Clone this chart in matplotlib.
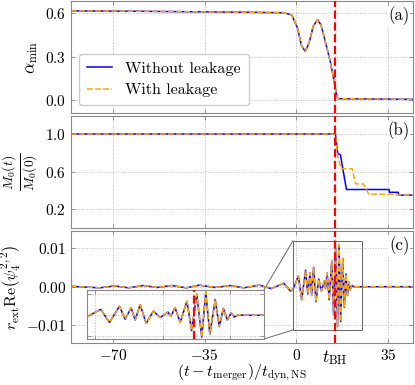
import matplotlib
matplotlib.use("Agg")
import matplotlib.pyplot as plt
from matplotlib.patches import Rectangle, ConnectionPatch

plt.rcParams.update({
    "font.family": "serif",
    "font.serif": ["cmr10"],
    "mathtext.fontset": "cm",
    "axes.unicode_minus": False,
    "axes.formatter.use_mathtext": True,
    "font.size": 11,
})

BLUE = "#0000ff"
ORANGE = "#ffa500"
RED = "#ff0000"
SPINE = "#888888"
GRID = "#bbbbbb"
BOX = "#666666"

T_BH = 14.7
XLIM = (-86, 44.6)

# panel (a): minimum lapse
alpha_t = [-86, -60, -30, -5, -1.7, 0.5, 2.0, 3.5, 5.0, 6.5, 8.2, 9.5,
           11.2, 13.0, 14.4, 15.3, 15.9, 44.6]
alpha_noleak = [0.618, 0.615, 0.61, 0.605, 0.59, 0.50, 0.38, 0.336, 0.40,
                0.51, 0.557, 0.52, 0.40, 0.27, 0.14, 0.05, 0.01, 0.005]
alpha_leak = [0.618, 0.615, 0.61, 0.605, 0.59, 0.50, 0.38, 0.337, 0.40,
              0.51, 0.556, 0.52, 0.40, 0.27, 0.14, 0.05, 0.01, 0.005]

# panel (b): rest mass fraction
m0_t_noleak = [-86, 15.0, 15.9, 16.9, 19.2, 35.5, 35.6, 39.0, 39.1, 44.6]
m0_noleak = [1.0, 1.0, 0.79, 0.78, 0.41, 0.41, 0.38, 0.38, 0.35, 0.35]
m0_t_leak = [-86, 15.0, 15.8, 17.2, 21.4, 22.7, 25.6, 27.8, 38.5, 39.0, 44.6]
m0_leak = [1.0, 1.0, 0.77, 0.63, 0.63, 0.47, 0.47, 0.36, 0.36, 0.35, 0.35]

# panel (c): GW strain extrema
psi_t = [-86, -75, -69.5, -64, -58.5, -53, -47.5, -42, -37, -31, -25, -20,
         -14, -9.5, -4.7, -2.1, -1.14, 0.84, 2.12, 3.6, 4.44, 5.33, 5.93,
         6.67, 7.56, 8.64, 9.63, 10.8, 11.2, 11.85, 12.6, 13.6, 14.3, 15.06,
         15.8, 16.4, 17.0, 17.8, 18.4, 19.0, 19.6, 20.15, 20.6, 21.3, 22.0,
         44.6]
psi_v = [0.0001, -0.0003, 0.0002, -0.0003, 0.0003, -0.0002, 0.0003, -0.0003,
         0.0004, -0.0002, 0.0003, -0.0003, 0.0004, -0.0005, 0.0009, -0.0012,
         -0.0006, 0.0028, -0.0034, 0.0043, -0.0019, 0.0036, -0.0023, 0.0051,
         -0.0039, 0.0020, -0.0011, 0.0015, -0.0005, 0.0036, -0.0034, 0.0067,
         -0.0073, 0.0101, -0.0104, 0.0110, -0.0091, 0.0074, -0.0054, 0.0033,
         -0.0023, 0.0012, -0.0008, 0.0003, 0.0, 0.0]

# zoomed window of the inset
INS_X = (-1.2, 25)
INS_Y = (-0.0113, 0.0120)

XTICKS = [-70, -35, 0, T_BH, 35]
XTICKLABELS = [r"$-70$", r"$-35$", r"$0$", r"$t_{\rm BH}$", r"$35$"]


def style(ax):
    for s in ax.spines.values():
        s.set_edgecolor(SPINE)
        s.set_linewidth(0.8)
    ax.tick_params(direction="in", top=True, right=True, length=3,
                   width=0.6, color=SPINE, labelsize=11)
    ax.grid(True, color=GRID, linestyle=":", linewidth=0.7)
    ax.set_axisbelow(True)


fig = plt.figure(figsize=(4.15, 3.85), dpi=100)
gs = fig.add_gridspec(3, 1, left=0.171, right=0.995, bottom=0.109,
                      top=0.997, hspace=0.027)
axa = fig.add_subplot(gs[0])
axb = fig.add_subplot(gs[1], sharex=axa)
axc = fig.add_subplot(gs[2], sharex=axa)

for ax in (axa, axb, axc):
    style(ax)
    ax.axvline(T_BH, color=RED, linestyle="--", linewidth=1.6, zorder=5)

# (a)
axa.plot(alpha_t, alpha_noleak, color=BLUE, lw=1.1, label="Without leakage")
axa.plot(alpha_t, alpha_leak, color=ORANGE, lw=1.1, ls="--", label="With leakage")
axa.set_ylim(-0.09, 0.685)
axa.set_yticks([0.0, 0.3, 0.6])
axa.set_yticklabels([r"$0.0$", r"$0.3$", r"$0.6$"])
axa.set_ylabel(r"$\alpha_{\rm min}$", fontsize=12.5)
axa.legend(loc="lower left", fontsize=11.5, edgecolor="#cccccc",
           framealpha=1.0, borderaxespad=0.5, handlelength=1.6,
           borderpad=0.5, labelspacing=0.45)

# (b)
axb.plot(m0_t_noleak, m0_noleak, color=BLUE, lw=1.1)
axb.plot(m0_t_leak, m0_leak, color=ORANGE, lw=1.1, ls="--")
axb.set_ylim(0.0, 1.19)
axb.set_yticks([0.2, 0.6, 1.0])
axb.set_yticklabels([r"$0.2$", r"$0.6$", r"$1.0$"])
axb.set_ylabel(r"$\frac{M_0(t)}{M_0(0)}$", fontsize=14)

# (c)
axc.plot(psi_t, psi_v, color=BLUE, lw=1.1)
axc.plot(psi_t, psi_v, color=ORANGE, lw=1.1, ls="--")
axc.set_ylim(-0.0147, 0.0145)
axc.set_yticks([-0.01, 0.0, 0.01])
axc.set_yticklabels([r"$-0.01$", r"$0.00$", r"$0.01$"])
axc.set_ylabel(r"$r_{\rm ext}{\rm Re}\left(\psi_4^{2,2}\right)$",
               fontsize=11.5, labelpad=2)
axc.set_xlim(*XLIM)
axc.set_xticks(XTICKS)
axc.set_xticklabels(XTICKLABELS)
axc.get_xticklabels()[3].set_fontsize(12.5)
axc.set_xlabel(r"$(t-t_{\rm merger})/t_{\rm dyn,NS}$", fontsize=11.5)
axc.xaxis.set_label_coords(0.5, -0.18)
plt.setp(axa.get_xticklabels(), visible=False)
plt.setp(axb.get_xticklabels(), visible=False)

for ax, lab in zip((axa, axb, axc), ("(a)", "(b)", "(c)")):
    ax.text(0.99, 0.955, lab, transform=ax.transAxes, ha="right", va="top",
            fontsize=12, zorder=10,
            bbox=dict(facecolor="white", edgecolor="none", pad=0.5))

# inset
axins = axc.inset_axes([0.047, 0.036, 0.517, 0.437])
axins.plot(psi_t, psi_v, color=BLUE, lw=1.1)
axins.plot(psi_t, psi_v, color=ORANGE, lw=1.1, ls="--")
axins.axvline(T_BH, color=RED, linestyle="--", linewidth=1.6, zorder=5)
axins.set_xlim(*INS_X)
axins.set_ylim(*INS_Y)
axins.set_xticks([0, 10, 20])
axins.set_yticks([-0.01, 0.0, 0.01])
axins.set_xticklabels([])
axins.set_yticklabels([])
style(axins)
axins.set_facecolor("white")

# zoom box and connectors (inset right corners -> box left corners)
axc.add_patch(Rectangle((INS_X[0], INS_Y[0]), INS_X[1] - INS_X[0],
                        INS_Y[1] - INS_Y[0], fill=False, edgecolor=BOX,
                        lw=0.7, zorder=4))
for ya, yb in ((1, INS_Y[1]), (0, INS_Y[0])):
    con = ConnectionPatch(xyA=(1, ya), coordsA=axins.transAxes,
                          xyB=(INS_X[0], yb), coordsB=axc.transData,
                          color=BOX, lw=0.7)
    axc.add_artist(con)

fig.savefig("out.png", dpi=100)
